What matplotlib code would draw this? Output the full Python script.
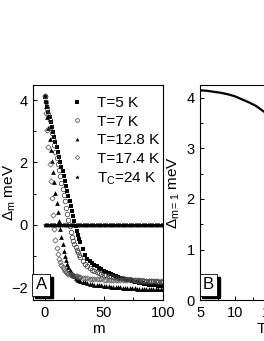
import matplotlib
matplotlib.use("Agg")
import matplotlib.pyplot as plt
from matplotlib.ticker import MultipleLocator
from matplotlib.transforms import offset_copy

plt.rcParams["font.family"] = ["Liberation Sans", "DejaVu Sans"]
plt.rcParams["mathtext.fontset"] = "custom"
plt.rcParams["mathtext.rm"] = "Liberation Sans"
plt.rcParams["mathtext.it"] = "Liberation Sans"
plt.rcParams["font.size"] = 11
plt.rcParams["xtick.labelsize"] = 10.5
plt.rcParams["ytick.labelsize"] = 10.5

# panel A: gap vs m
m_a = list(range(0, 31)) + list(range(32, 101, 2))

d_t5 = [4.10, 3.95, 3.79, 3.63, 3.47, 3.31, 3.15, 2.99, 2.83, 2.67, 2.51,
        2.35, 2.19, 2.03, 1.87, 1.71, 1.55, 1.39, 1.23, 1.07, 0.91, 0.75,
        0.59, 0.43, 0.27, 0.11, -0.05, -0.19, -0.32, -0.45, -0.57,
        -0.79, -0.97, -1.09, -1.17, -1.24, -1.29, -1.34, -1.38, -1.42, -1.47,
        -1.51, -1.55, -1.58, -1.62, -1.65, -1.68, -1.70, -1.73, -1.75, -1.77,
        -1.79, -1.81, -1.83, -1.85, -1.86, -1.88, -1.89, -1.90, -1.92, -1.93,
        -1.94, -1.95, -1.96, -1.97, -1.98]

d_t7 = [4.15, 3.95, 3.75, 3.55, 3.35, 3.15, 2.95, 2.75, 2.55, 2.35, 2.15,
        1.95, 1.75, 1.55, 1.35, 1.15, 0.95, 0.75, 0.55, 0.35, 0.15, -0.05,
        -0.22, -0.38, -0.51, -0.62, -0.72, -0.81, -0.89, -0.97, -1.04,
        -1.16, -1.26, -1.34, -1.40, -1.45, -1.49, -1.52, -1.55, -1.58, -1.60,
        -1.62, -1.64, -1.66, -1.67, -1.68, -1.70, -1.71, -1.72, -1.73, -1.74,
        -1.75, -1.76, -1.77, -1.78, -1.78, -1.79, -1.80, -1.80, -1.81, -1.81,
        -1.82, -1.82, -1.83, -1.83, -1.84]

d_t128 = [4.15, 3.80, 3.45, 3.10, 2.75, 2.40, 2.05, 1.70, 1.36, 1.03, 0.71,
          0.41, 0.12, -0.15, -0.40, -0.63, -0.83, -1.00, -1.14, -1.26, -1.36,
          -1.44, -1.51, -1.57, -1.62, -1.66, -1.70, -1.73, -1.76, -1.78, -1.80,
          -1.83, -1.85, -1.87, -1.89, -1.90, -1.92, -1.93, -1.94, -1.95, -1.96,
          -1.97, -1.98, -1.99, -1.99, -2.00, -2.01, -2.01, -2.02, -2.02, -2.03,
          -2.03, -2.04, -2.04, -2.05, -2.05, -2.05, -2.06, -2.06, -2.06, -2.07,
          -2.07, -2.07, -2.08, -2.08, -2.08]

d_t174 = [4.15, 3.60, 3.05, 2.50, 1.95, 1.40, 0.85, 0.32, -0.15, -0.50, -0.76,
          -0.95, -1.09, -1.20, -1.29, -1.36, -1.42, -1.47, -1.51, -1.54, -1.57,
          -1.59, -1.61, -1.62, -1.63, -1.64, -1.65, -1.66, -1.67, -1.68, -1.69,
          -1.70, -1.71, -1.72, -1.73, -1.73, -1.74, -1.74, -1.75, -1.75, -1.76,
          -1.76, -1.76, -1.77, -1.77, -1.77, -1.78, -1.78, -1.78, -1.78, -1.79,
          -1.79, -1.79, -1.79, -1.80, -1.80, -1.80, -1.80, -1.80, -1.81, -1.81,
          -1.81, -1.81, -1.81, -1.82, -1.82]

m_tc = list(range(0, 101))
d_tc = [0.0] * len(m_tc)

# panel B: gap at m=1 vs temperature
temps = [5, 6, 7, 8, 9, 10, 11, 12, 13, 14, 15, 16, 17, 18, 19, 20, 21, 22,
         23, 23.5, 24]
gap_m1 = [4.15, 4.14, 4.12, 4.10, 4.07, 4.03, 3.97, 3.91, 3.84, 3.74, 3.64,
          3.51, 3.35, 3.18, 2.96, 2.71, 2.40, 2.00, 1.45, 1.03, 0.0]


def panel_label(fig, ax, s):
    sh = offset_copy(ax.transAxes, fig=fig, x=2.5, y=-2.5, units="dots")
    ax.text(0.02, 0.05, s, transform=sh, fontsize=12, color="black",
            bbox=dict(boxstyle="square,pad=0.2", fc="black", ec="black"))
    ax.text(0.02, 0.05, s, transform=ax.transAxes, fontsize=12,
            bbox=dict(boxstyle="square,pad=0.2", fc="white", ec="black",
                      lw=0.6))


def style_axis(ax):
    ax.tick_params(which="both", direction="in", width=0.7, pad=4)
    ax.tick_params(which="major", length=3)
    ax.tick_params(which="minor", length=2)
    for sp in ax.spines.values():
        sp.set_linewidth(0.8)


fig = plt.figure(figsize=(2.64, 3.41), dpi=100)

ax1 = fig.add_axes([0.125, 0.12, 0.492, 0.63])
ax1.plot(m_a, d_t5, "s", ms=2.8, color="black", mew=0, label="T=5 K")
ax1.plot(m_a, d_t7, "o", ms=3.3, mfc="none", mec="0.2", mew=0.5,
         label="T=7 K")
ax1.plot(m_a, d_t128, "^", ms=3.4, color="black", mew=0, label="T=12.8 K")
ax1.plot(m_a, d_t174, "D", ms=2.7, mfc="none", mec="0.3", mew=0.5,
         label="T=17.4 K")
ax1.plot(m_tc, d_tc, "*", ms=3.2, color="black", mew=0.3,
         label="T$_\\mathrm{C}$=24 K")
ax1.set_xlim(-10, 100)
ax1.set_ylim(-2.42, 4.48)
ax1.xaxis.set_major_locator(MultipleLocator(50))
ax1.xaxis.set_minor_locator(MultipleLocator(25))
ax1.yaxis.set_major_locator(MultipleLocator(2))
ax1.yaxis.set_minor_locator(MultipleLocator(1))
ax1.set_xlabel("m", labelpad=2)
ax1.set_ylabel("Δ$_\\mathrm{m}$ meV")
ax1.yaxis.set_label_coords(-0.115, 0.5)
style_axis(ax1)
ax1.legend(loc="upper left", bbox_to_anchor=(0.28, 0.95), frameon=False,
           numpoints=1, handlelength=1.0, handletextpad=0.8,
           labelspacing=0.3, borderpad=0, borderaxespad=0, markerscale=0.8)
panel_label(fig, ax1, "A")

ax2 = fig.add_axes([0.758, 0.12, 0.53, 0.63])
ax2.plot(temps, gap_m1, "-", color="black", lw=1.6)
ax2.set_xlim(5, 25)
ax2.set_ylim(0, 4.25)
ax2.xaxis.set_major_locator(MultipleLocator(5))
ax2.xaxis.set_minor_locator(MultipleLocator(2.5))
ax2.yaxis.set_major_locator(MultipleLocator(1))
ax2.yaxis.set_minor_locator(MultipleLocator(0.5))
ax2.set_xlabel("T (K)", labelpad=2)
ax2.xaxis.set_label_coords(0.53, -0.1)
ax2.set_ylabel("Δ$_\\mathrm{m=1}$ meV")
ax2.yaxis.set_label_coords(-0.13, 0.5)
style_axis(ax2)
panel_label(fig, ax2, "B")

fig.savefig("out.png", dpi=100)
